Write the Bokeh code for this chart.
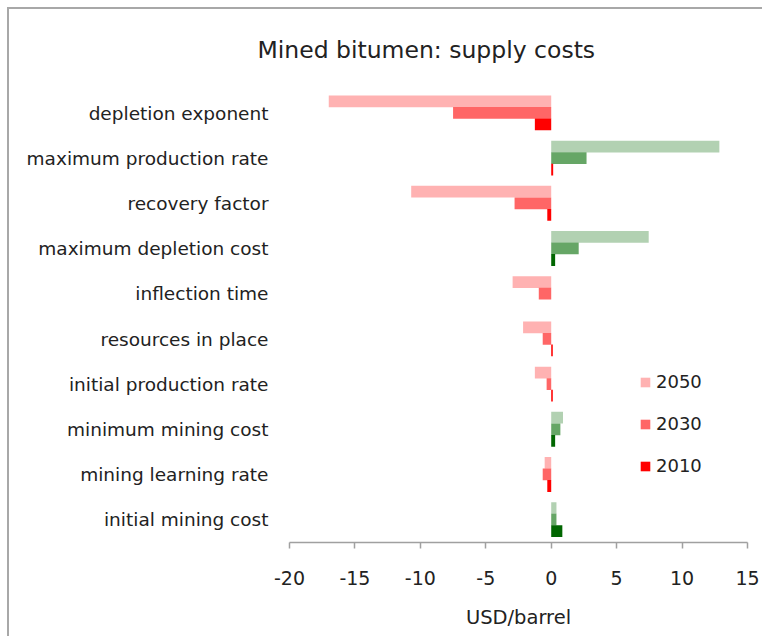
from bokeh.plotting import figure
from bokeh.models import (FactorRange, Range1d, FixedTicker, Legend, LegendItem,
                          ColumnDataSource, PrintfTickFormatter)
from bokeh.transform import dodge
from bokeh.embed import file_html
from bokeh.resources import INLINE

# ---- data (USD/barrel) ----
chart_title = "Mined bitumen: supply costs"
categories = ["depletion exponent", "maximum production rate", "recovery factor",
              "maximum depletion cost", "inflection time", "resources in place",
              "initial production rate", "minimum mining cost", "mining learning rate",
              "initial mining cost"]
v2050 = [-17.0, 12.85, -10.7, 7.45, -2.95, -2.15, -1.25, 0.9, -0.5, 0.4]
v2030 = [-7.5, 2.7, -2.8, 2.1, -0.95, -0.65, -0.35, 0.7, -0.65, 0.4]
v2010 = [-1.25, 0.15, -0.3, 0.3, 0.0, 0.12, 0.12, 0.3, -0.3, 0.85]
series_labels = ["2050", "2030", "2010"]
x_ticks = [-20, -15, -10, -5, 0, 5, 10, 15]

FONT = "DejaVu Sans"
TXT = "#222222"

neg_cols = {"2050": "#FFB2B2", "2030": "#FF6666", "2010": "#FF0000"}
pos_cols = {"2050": "#B2D1B2", "2030": "#66A666", "2010": "#006600"}

def colors(vals, key):
    # very small values are drawn in the "negative" colour as in the original
    return [pos_cols[key] if v >= 0.2 else neg_cols[key] for v in vals]

source = ColumnDataSource(dict(
    cat=categories,
    v2050=v2050, v2030=v2030, v2010=v2010,
    c2050=colors(v2050, "2050"), c2030=colors(v2030, "2030"), c2010=colors(v2010, "2010"),
))

p = figure(width=755, height=629, output_backend="svg", toolbar_location=None,
           y_range=FactorRange(factors=list(reversed(categories)), range_padding=0),
           x_range=Range1d(-20, 15),
           min_border_left=280, min_border_right=17, min_border_top=81, min_border_bottom=96,
           title=chart_title,
           styles={"margin-left": "7px", "margin-top": "7px",
                   "border-left": "2px solid #a8a8a8", "border-top": "2px solid #a8a8a8"})

p.title.align = "left"
p.title.offset = -32
p.title.standoff = 50
p.title.vertical_align = "top"
p.title.text_font = FONT
p.title.text_font_size = "23.5px"
p.title.text_font_style = "normal"
p.title.text_color = TXT

offsets = [0.26, 0.005, -0.25]
renderers = []
for key, off in zip(series_labels, offsets):
    r = p.hbar(y=dodge("cat", off, range=p.y_range), left=0, right="v" + key,
               height=0.26, fill_color="c" + key, line_color=None, source=source)
    renderers.append(r)

p.xgrid.grid_line_color = None
p.ygrid.grid_line_color = None
p.outline_line_color = None
p.background_fill_color = "white"

xa = p.xaxis[0]
xa.ticker = FixedTicker(ticks=x_ticks)
xa.formatter = PrintfTickFormatter(format="%d")
xa.axis_line_color = "#a0a0a0"
xa.axis_line_width = 1.5
xa.major_tick_line_color = "#a0a0a0"
xa.major_tick_line_width = 1.5
xa.major_tick_in = 0
xa.major_tick_out = 6
xa.minor_tick_line_color = None
xa.major_label_standoff = 22
xa.major_label_text_font = FONT
xa.major_label_text_font_size = "19px"
xa.major_label_text_color = TXT
xa.axis_label = "USD/barrel"
xa.axis_label_text_font = FONT
xa.axis_label_text_font_size = "19.5px"
xa.axis_label_text_font_style = "normal"
xa.axis_label_text_color = TXT
xa.axis_label_standoff = 18

ya = p.yaxis[0]
ya.axis_line_color = None
ya.major_tick_line_color = None
ya.minor_tick_line_color = None
ya.major_label_standoff = 15
ya.major_label_text_font = FONT
ya.major_label_text_font_size = "18.5px"
ya.major_label_text_color = TXT

legend = Legend(items=[LegendItem(label=lab, renderers=[r]) for lab, r in zip(series_labels, renderers)],
                location=(350, 66), padding=0, margin=0, spacing=21,
                glyph_width=12, glyph_height=12, label_height=10, label_standoff=5,
                label_text_font=FONT, label_text_font_size="18px", label_text_color=TXT,
                border_line_color=None, background_fill_alpha=0)
p.add_layout(legend)

open("out.html", "w").write(file_html(p, INLINE))
